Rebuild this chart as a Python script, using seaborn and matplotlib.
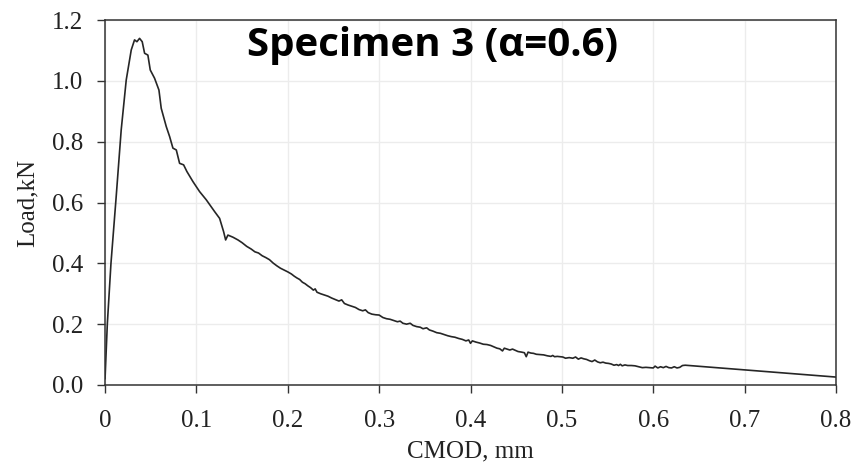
import numpy as np
import pandas as pd
import matplotlib
matplotlib.use("Agg")
import matplotlib.pyplot as plt
import seaborn as sns

# Load vs. crack mouth opening displacement, specimen 3
cmod = [
    0.000, 0.0025, 0.0065, 0.0122, 0.0177, 0.0232, 0.0287, 0.0323, 0.0349, 0.0378,
    0.0407, 0.0433, 0.0469, 0.0495, 0.0542, 0.059, 0.0615, 0.067, 0.0707, 0.0743,
    0.078, 0.0816, 0.086, 0.0896, 0.0962, 0.1035, 0.1108, 0.120, 0.1254, 0.1298,
    0.132, 0.1345, 0.140, 0.1455,
    0.150, 0.155, 0.160, 0.164, 0.168, 0.172, 0.176, 0.180, 0.184,
    0.188, 0.192, 0.196, 0.200, 0.204, 0.207, 0.210, 0.213, 0.216, 0.219,
    0.222, 0.225, 0.228, 0.230, 0.232, 0.236, 0.240, 0.244, 0.248, 0.252,
    0.256, 0.259, 0.262, 0.266, 0.270, 0.274, 0.278, 0.282, 0.285, 0.288,
    0.292, 0.296, 0.300, 0.304, 0.308, 0.312, 0.316, 0.320, 0.323, 0.326,
    0.330, 0.334, 0.337, 0.341, 0.345, 0.348, 0.352, 0.355, 0.359, 0.363,
    0.367, 0.371, 0.375, 0.379, 0.383, 0.387, 0.391, 0.395, 0.398, 0.400,
    0.402, 0.406, 0.410, 0.414, 0.418, 0.422, 0.426, 0.429, 0.432, 0.435,
    0.437, 0.440, 0.443, 0.446, 0.449, 0.452, 0.456, 0.459, 0.461, 0.463,
    0.466, 0.469, 0.472, 0.476, 0.480, 0.484, 0.488, 0.490, 0.492, 0.495,
    0.498, 0.501, 0.504, 0.508, 0.512, 0.515, 0.518, 0.521, 0.524, 0.527,
    0.530, 0.533, 0.536, 0.539, 0.542, 0.545, 0.548, 0.551, 0.554, 0.557,
    0.560, 0.562, 0.564, 0.566, 0.569, 0.572, 0.576, 0.580, 0.584, 0.588,
    0.592, 0.596, 0.600, 0.602, 0.605, 0.608, 0.611, 0.614, 0.617, 0.620,
    0.623, 0.626, 0.629, 0.632, 0.635, 0.800,
]
load = [
    0.020, 0.200, 0.400, 0.619, 0.839, 1.003, 1.102, 1.135, 1.129, 1.140,
    1.129, 1.091, 1.085, 1.036, 1.009, 0.970, 0.910, 0.850, 0.817, 0.779,
    0.773, 0.729, 0.724, 0.702, 0.669, 0.636, 0.609, 0.570, 0.548, 0.504,
    0.477, 0.493, 0.486, 0.477,
    0.468, 0.456, 0.447, 0.438, 0.434, 0.425, 0.419, 0.412, 0.401,
    0.392, 0.384, 0.378, 0.372, 0.365, 0.358, 0.352, 0.347, 0.338, 0.333,
    0.326, 0.320, 0.312, 0.316, 0.305, 0.300, 0.296, 0.292, 0.286, 0.281,
    0.276, 0.280, 0.268, 0.263, 0.259, 0.255, 0.248, 0.244, 0.247, 0.238,
    0.233, 0.231, 0.230, 0.222, 0.218, 0.216, 0.212, 0.208, 0.210, 0.203,
    0.200, 0.203, 0.196, 0.192, 0.190, 0.185, 0.188, 0.181, 0.177, 0.172,
    0.170, 0.166, 0.162, 0.159, 0.157, 0.153, 0.150, 0.145, 0.148, 0.137,
    0.145, 0.141, 0.138, 0.134, 0.133, 0.130, 0.125, 0.121, 0.119, 0.112,
    0.121, 0.118, 0.115, 0.118, 0.114, 0.110, 0.108, 0.106, 0.093, 0.108,
    0.105, 0.104, 0.101, 0.100, 0.099, 0.096, 0.094, 0.097, 0.093, 0.094,
    0.093, 0.092, 0.088, 0.090, 0.088, 0.092, 0.085, 0.089, 0.086, 0.084,
    0.080, 0.077, 0.082, 0.076, 0.073, 0.075, 0.072, 0.071, 0.069, 0.065,
    0.067, 0.064, 0.068, 0.063, 0.066, 0.064, 0.064, 0.063, 0.060, 0.057,
    0.058, 0.057, 0.056, 0.062, 0.056, 0.060, 0.057, 0.061, 0.057, 0.056,
    0.060, 0.056, 0.058, 0.064, 0.065, 0.026,
]

x_ticks = [0, 0.1, 0.2, 0.3, 0.4, 0.5, 0.6, 0.7, 0.8]
x_tick_labels = ["0", "0.1", "0.2", "0.3", "0.4", "0.5", "0.6", "0.7", "0.8"]
y_ticks = [0.0, 0.2, 0.4, 0.6, 0.8, 1.0, 1.2]
y_tick_labels = ["0.0", "0.2", "0.4", "0.6", "0.8", "1.0", "1.2"]

df = pd.DataFrame({"CMOD": cmod, "Load": load})

sns.set_theme(style="white")
plt.rcParams["font.family"] = ["Liberation Serif", "DejaVu Serif"]

fig = plt.figure(figsize=(8.63, 4.68), dpi=100)
ax = fig.add_axes([0.1217, 0.1774, 0.8470, 0.7796])

sns.lineplot(data=df, x="CMOD", y="Load", ax=ax, color="#262626",
             linewidth=1.2, estimator=None, sort=False)

ax.set_xlim(0, 0.8)
ax.set_ylim(0, 1.2)
ax.set_xticks(x_ticks)
ax.set_xticklabels(x_tick_labels)
ax.set_yticks(y_ticks)
ax.set_yticklabels(y_tick_labels)
ax.grid(True, color="#ececec", linewidth=1.0)
ax.set_axisbelow(True)

for side in ["left", "bottom", "top", "right"]:
    ax.spines[side].set_visible(True)
    ax.spines[side].set_color("#333333")
    ax.spines[side].set_linewidth(1.1)

ax.tick_params(axis="both", which="major", direction="out", length=6,
               width=1.0, color="#333333", labelsize=18, labelcolor="#222222",
               bottom=True, left=True, top=False, right=False)
ax.tick_params(axis="x", pad=12)
ax.tick_params(axis="y", pad=10)

ax.set_xlabel("CMOD, mm", fontsize=18, color="#222222", labelpad=6)
ax.set_ylabel("Load,kN", fontsize=18, color="#222222", labelpad=9)

ax.text(0.358, 1.117, "Specimen 3 (α=0.6)", ha="center", va="center",
        fontsize=29, fontweight="bold", family=["Open Sans", "DejaVu Sans"],
        color="black")

fig.savefig("out.png", dpi=100)
